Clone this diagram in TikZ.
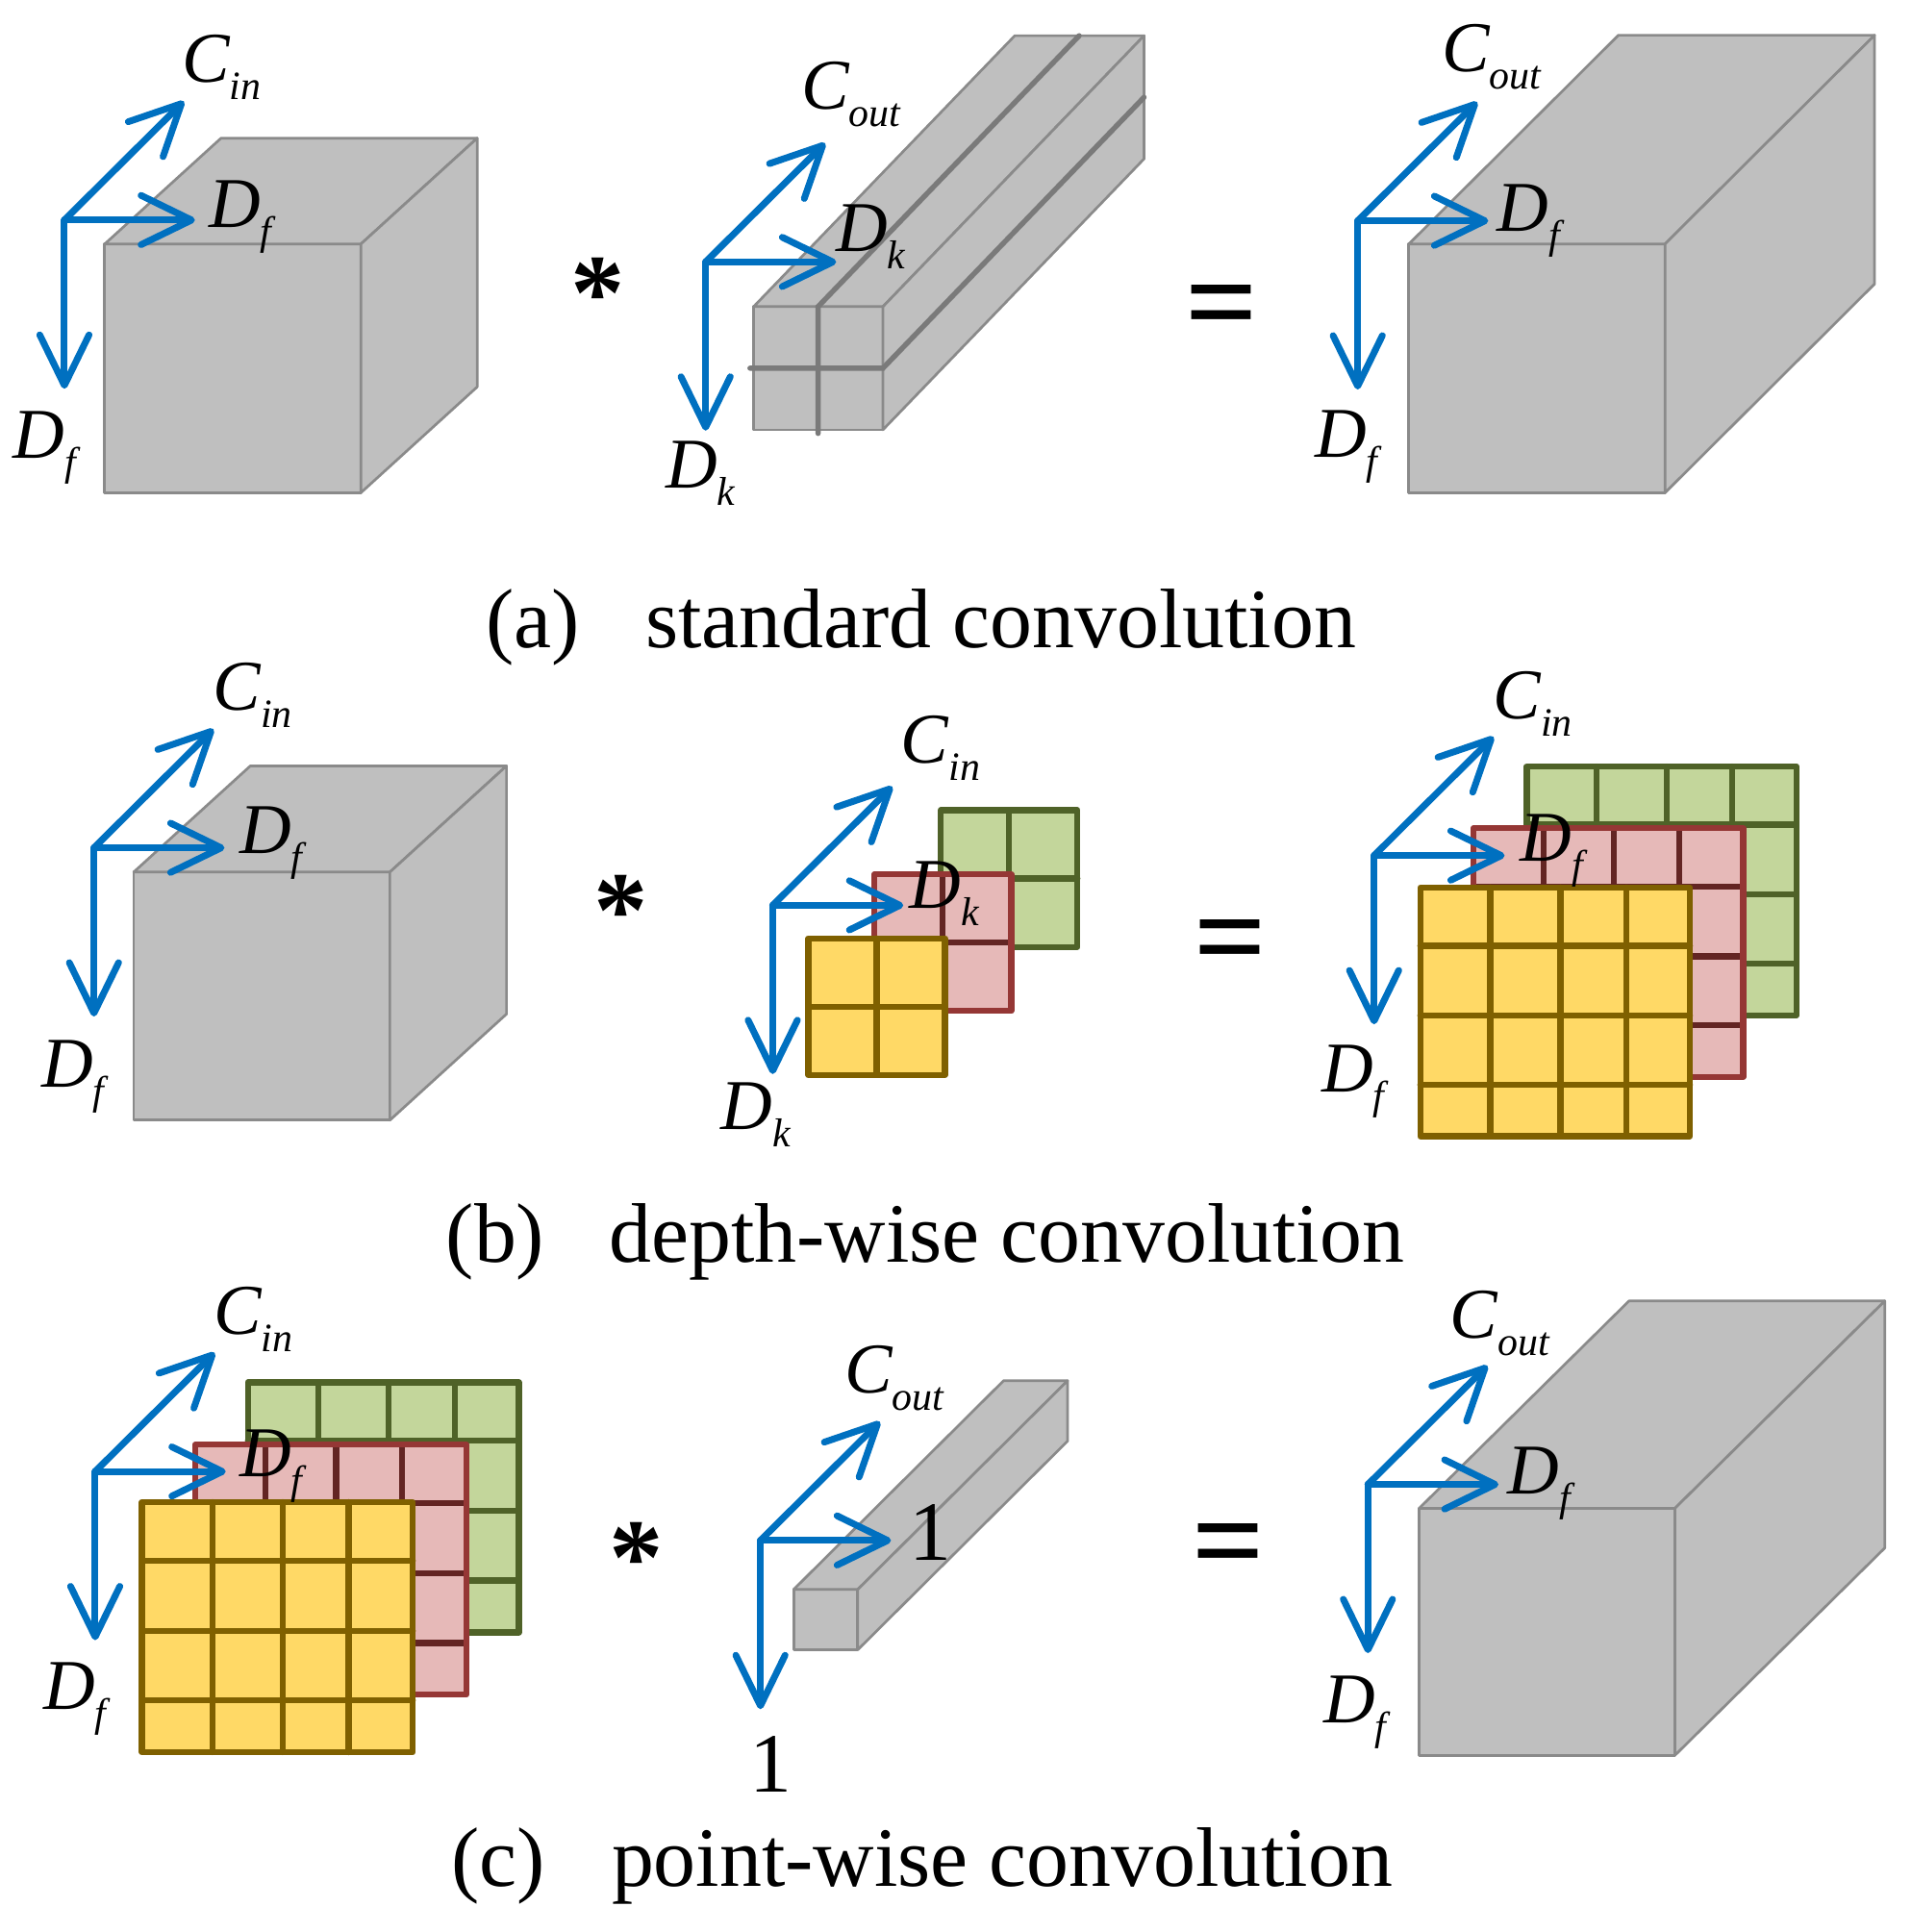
\documentclass[tikz,border=0pt]{standalone}
\usepackage{fontspec}
\setmainfont{Liberation Serif}
\usepackage{tikz}
\usetikzlibrary{arrows.meta}

\definecolor{boxgray}{HTML}{BFBFBF}
\definecolor{edgegray}{HTML}{8A8A8A}
\definecolor{linegray}{HTML}{7A7A7A}
\definecolor{axisblue}{HTML}{0070C0}
\definecolor{yelfill}{HTML}{FFD966}
\definecolor{yelline}{HTML}{7F6000}
\definecolor{redfill}{HTML}{E6B9B8}
\definecolor{redline}{HTML}{953735}
\definecolor{redinner}{HTML}{632523}
\definecolor{grnfill}{HTML}{C3D69B}
\definecolor{grnline}{HTML}{4F6228}

\tikzset{
  box/.style={fill=boxgray,draw=edgegray,line width=0.6pt,line join=round},
  barline/.style={draw=linegray,line width=1.2pt,line cap=round},
  axis/.style={draw=axisblue,line width=1.55pt,line cap=round,
    -{Straight Barb[length=4.1mm,width=4mm,round]}},
  cell/.style={line width=1.4pt,line cap=round,line join=round},
  lab/.style={anchor=base west,inner sep=0pt},
  sym/.style={anchor=north,inner sep=0pt,font={\fontsize{25pt}{27pt}\selectfont\bfseries}},
  eqsym/.style={anchor=north,inner sep=0pt,font={\fontsize{29.5pt}{31pt}\selectfont\bfseries}},
  captext/.style={anchor=base west,inner sep=0pt,font={\fontsize{19.5pt}{22pt}\selectfont}}
}

\newcommand{\dimlab}[2]{{\fontsize{16.5pt}{18pt}\selectfont\itshape #1}%
  {\fontsize{9.3pt}{10pt}\selectfont\raisebox{-4pt}{\itshape #2}}}

\newcommand{\cuboid}[6]{%
  \draw[box] (#1,#2) rectangle ++(#3,#4);
  \draw[box] (#1,#2) -- ++(#5,#6) -- ++(#3,0) -- ++({-(#5)},{-(#6)}) -- cycle;
  \draw[box] (#1+#3,#2) -- ++(#5,#6) -- ++(0,#4) -- ++({-(#5)},{-(#6)}) -- cycle;}

\newcommand{\layer}[9]{%
  \fill[#5] (#1,#2) rectangle ++(#3,#4);
  \foreach \f in {#8} \draw[cell,#7] ({#1+\f*#3},#2) -- ++(0,#4);
  \foreach \f in {#9} \draw[cell,#7] (#1,{#2+\f*#4}) -- ++(#3,0);
  \draw[cell,#6] (#1,#2) rectangle ++(#3,#4);}

\newcommand{\axes}[3]{%
  \coordinate (#1o) at (#2,#3);
  \coordinate (#1u) at (#2+97,#3-96.5);
  \coordinate (#1r) at (#2+106,#3);
  \coordinate (#1d) at (#2,#3+137);
  \draw[axis] (#1o) -- (#1u);
  \draw[axis] (#1o) -- (#1r);
  \draw[axis] (#1o) -- (#1d);}

\begin{document}
\begin{tikzpicture}[x=0.01cm,y=-0.01cm]
  \useasboundingbox (0,0) rectangle (1552,1569);

  % (a)
  \cuboid{85}{198.2}{208}{202}{94.5}{-86}
  \axes{aL}{52.3}{178.7}
  \node[lab] (aLc) at (147,67) {\dimlab{C}{in}};
  \node[lab] (aLr) at (169,185) {\dimlab{D}{f}};
  \node[lab] (aLd) at (10,372) {\dimlab{D}{f}};
  \node[sym] (aStar) at (485.5,209) {*};

  \cuboid{612}{249}{105}{100}{212}{-220}
  \draw[barline] (664.3,352) -- (664.3,249) -- (876.3,29);
  \draw[barline] (609,299) -- (717,299) -- (929,79);
  \axes{aM}{573}{212.7}
  \node[lab] (aMc) at (650,89) {\dimlab{C}{out}};
  \node[lab] (aMr) at (678,204) {\dimlab{D}{k}};
  \node[lab] (aMd) at (540,396) {\dimlab{D}{k}};
  \node[eqsym] (aEq) at (992.5,230.8) {=};

  \cuboid{1144}{198.2}{208}{202}{170.2}{-169.6}
  \axes{aR}{1102.5}{179.3}
  \node[lab] (aRc) at (1170,58) {\dimlab{C}{out}};
  \node[lab] (aRr) at (1215,187.7) {\dimlab{D}{f}};
  \node[lab] (aRd) at (1067,371) {\dimlab{D}{f}};

  \node[captext] (capA) at (394,526) {(a)};
  \node[captext] (capAt) at (523.5,526) {standard convolution};

  % (b)
  \cuboid{108.6}{708.2}{208}{201.5}{94.7}{-86.2}
  \axes{bL}{76.3}{688.5}
  \node[lab] (bLc) at (172.5,576.7) {\dimlab{C}{in}};
  \node[lab] (bLr) at (194,693.4) {\dimlab{D}{f}};
  \node[lab] (bLd) at (33,882.5) {\dimlab{D}{f}};
  \node[sym] (bStar) at (504.5,710) {*};

  \layer{763.9}{658}{111}{111}{grnfill}{grnline}{grnline}{0.5}{0.5}
  \layer{710.1}{710}{111}{111}{redfill}{redline}{redinner}{0.5}{0.5}
  \layer{656.3}{762}{111}{111}{yelfill}{yelline}{yelline}{0.5}{0.5}
  \axes{bM}{627.5}{735.2}
  \node[lab] (bMc) at (731,619.8) {\dimlab{C}{in}};
  \node[lab] (bMr) at (737.6,737.9) {\dimlab{D}{k}};
  \node[lab] (bMd) at (584.6,917.2) {\dimlab{D}{k}};
  \node[eqsym] (bEq) at (999,746.3) {=};

  \layer{1239.7}{622.5}{219}{202}{grnfill}{grnline}{grnline}{0.26,0.52,0.763}{0.234,0.515,0.793}
  \layer{1196.5}{672.6}{219}{202}{redfill}{redline}{redinner}{0.26,0.52,0.763}{0.234,0.515,0.793}
  \layer{1153.3}{720.7}{219}{202}{yelfill}{yelline}{yelline}{0.26,0.52,0.763}{0.234,0.515,0.793}
  \axes{bR}{1115.8}{694.8}
  \node[lab] (bRc) at (1212,583.6) {\dimlab{C}{in}};
  \node[lab] (bRr) at (1233.8,699) {\dimlab{D}{f}};
  \node[lab] (bRd) at (1072.5,886.6) {\dimlab{D}{f}};

  \node[captext] (capB) at (361.5,1025) {(b)};
  \node[captext] (capBt) at (494,1025) {depth-wise convolution};

  % (c)
  \layer{201.3}{1122.6}{220}{203}{grnfill}{grnline}{grnline}{0.26,0.52,0.763}{0.234,0.515,0.793}
  \layer{158.6}{1173.2}{220}{203}{redfill}{redline}{redinner}{0.26,0.52,0.763}{0.234,0.515,0.793}
  \layer{115.2}{1219.9}{220}{203}{yelfill}{yelline}{yelline}{0.26,0.52,0.763}{0.234,0.515,0.793}
  \axes{cL}{77.3}{1195}
  \node[lab] (cLc) at (172.7,1083.7) {\dimlab{C}{in}};
  \node[lab] (cLr) at (194,1199) {\dimlab{D}{f}};
  \node[lab] (cLd) at (34.5,1388) {\dimlab{D}{f}};
  \node[sym] (cStar) at (517,1236) {*};

  \cuboid{644.5}{1290.8}{52}{49}{170.4}{-169.5}
  \axes{cM}{617.5}{1251}
  \node[lab] (cMc) at (685,1131) {\dimlab{C}{out}};
  \node[lab,font={\fontsize{19.5pt}{22pt}\selectfont}] (cMr) at (738,1267) {1};
  \node[lab,font={\fontsize{19.5pt}{22pt}\selectfont}] (cMd) at (608,1455) {1};
  \node[eqsym] (cEq) at (997.5,1236.6) {=};

  \cuboid{1152.3}{1225}{207.7}{200.6}{170.5}{-168.5}
  \axes{cR}{1110.8}{1205.5}
  \node[lab] (cRc) at (1177,1086.5) {\dimlab{C}{out}};
  \node[lab] (cRr) at (1223.8,1213) {\dimlab{D}{f}};
  \node[lab] (cRd) at (1074,1399) {\dimlab{D}{f}};

  \node[captext] (capC) at (366,1532) {(c)};
  \node[captext] (capCt) at (496,1532) {point-wise convolution};
\end{tikzpicture}
\end{document}
